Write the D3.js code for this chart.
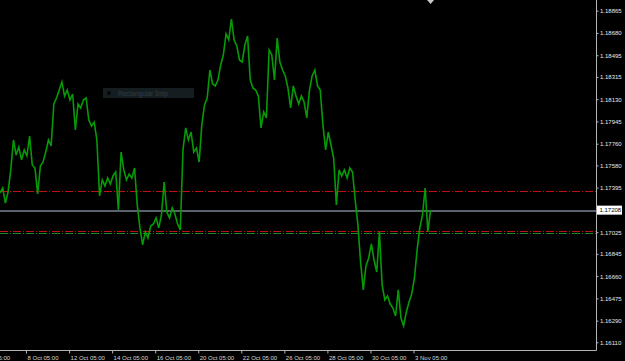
<!DOCTYPE html>
<html>
<head>
<meta charset="utf-8">
<script src="https://cdn.jsdelivr.net/npm/d3@7"></script>
<style>
  html, body { margin: 0; padding: 0; background: #000; }
  svg { display: block; }
</style>
</head>
<body>
<div id="chart"></div>
<script>
// EURUSD closes, one value every 3 hourly bars
const closes = [
  1.17351, 1.17392, 1.17267, 1.17359, 1.17542, 1.17791, 1.17666, 1.17733, 1.17625, 1.17708,
  1.17658, 1.17824, 1.17583, 1.17558, 1.17342, 1.17575, 1.17608, 1.17691, 1.17791, 1.17741,
  1.18090, 1.18140, 1.18206, 1.18273, 1.18156, 1.18206, 1.18123, 1.18173, 1.17874, 1.18090,
  1.18057, 1.18123, 1.18140, 1.17957, 1.17907, 1.17940, 1.17791, 1.17326, 1.17459, 1.17409,
  1.17475, 1.17425, 1.17492, 1.17525, 1.17209, 1.17691, 1.17542, 1.17459, 1.17508, 1.17475,
  1.17558, 1.17251, 1.17060, 1.16919, 1.17027, 1.16977, 1.17076, 1.17093, 1.17143, 1.17060,
  1.17168, 1.17442, 1.17193, 1.17143, 1.17226, 1.17176, 1.17093, 1.17043, 1.17708, 1.17891,
  1.17791, 1.17857, 1.17691, 1.17724, 1.17608, 1.17916, 1.18082, 1.18140, 1.18372, 1.18256,
  1.18240, 1.18289, 1.18414, 1.18497, 1.18672, 1.18622, 1.18796, 1.18622, 1.18572, 1.18456,
  1.18439, 1.18580, 1.18655, 1.18289, 1.18223, 1.18206, 1.18156, 1.17891, 1.18024, 1.17974,
  1.18539, 1.18497, 1.18289, 1.18638, 1.18439, 1.18372, 1.18323, 1.18223, 1.18057, 1.18240,
  1.18156, 1.18090, 1.18156, 1.18107, 1.17974, 1.18206, 1.18323, 1.18372, 1.18240, 1.18206,
  1.17916, 1.17708, 1.17857, 1.17749, 1.17641, 1.17251, 1.17542, 1.17492, 1.17542, 1.17475,
  1.17558, 1.17525, 1.17292, 1.17085, 1.16777, 1.16545, 1.16744, 1.16811, 1.16927, 1.16794,
  1.16694, 1.17027, 1.16586, 1.16462, 1.16495, 1.16428, 1.16395, 1.16329, 1.16545, 1.16312,
  1.16246, 1.16362, 1.16445, 1.16511, 1.16644, 1.16877, 1.17060, 1.17168, 1.17392, 1.17027,
  1.17209
];
const barStep = 3;

const priceTicks = [1.18865, 1.18680, 1.18495, 1.18315, 1.18130, 1.17945, 1.17760, 1.17580,
  1.17395, 1.17025, 1.16845, 1.16660, 1.16475, 1.16290, 1.16110];

const timeTickBars = [-25, 29, 77, 125, 173, 221, 269, 317, 365, 413, 461];
const timeTickLabels = ["6 Oct 05:00", "8 Oct 05:00", "12 Oct 05:00", "14 Oct 05:00",
  "16 Oct 05:00", "20 Oct 05:00", "22 Oct 05:00", "26 Oct 05:00", "28 Oct 05:00",
  "30 Oct 05:00", "3 Nov 05:00"];

const bidPrice = 1.17208;
const redLevels = [1.17364, 1.17032];
const greenLevels = [1.17015];

const width = 625, height = 361;
const plotRight = 596.5, plotBottom = 350.5;

const svg = d3.select("#chart").append("svg")
  .attr("width", width)
  .attr("height", height)
  .style("background", "#000")
  .style("font-family", "'Liberation Sans', Arial, sans-serif");

// bars -> pixels, prices -> pixels
const x = d3.scaleLinear().domain([0, 665]).range([0, plotRight]);
const y = d3.scaleLinear().domain([1.16110, 1.18865]).range([342.3, 10.7]);

// level lines
function levelLine(price, color, dash, w) {
  const py = Math.round(y(price)) + 0.5;
  svg.append("line")
    .attr("x1", 0).attr("x2", plotRight)
    .attr("y1", py).attr("y2", py)
    .attr("stroke", color)
    .attr("stroke-width", w)
    .attr("shape-rendering", "crispEdges")
    .attr("stroke-dasharray", dash);
}
levelLine(bidPrice, "#5a626c", null, 2);
redLevels.forEach(p => levelLine(p, "#c01010", "8,2,1,2", 1));
greenLevels.forEach(p => levelLine(p, "#1a8a26", "8,2,1,2", 1));

// "Rectangular Snip" leftover
const snip = svg.append("g").attr("transform", "translate(103,88)");
snip.append("rect").attr("width", 91).attr("height", 10).attr("fill", "#151d21");
snip.append("circle").attr("cx", 6).attr("cy", 5).attr("r", 2).attr("fill", "#050709");
snip.append("text").attr("x", 15).attr("y", 7.5)
  .attr("font-size", "6.5px").attr("fill", "#2f3d46").text("Rectangular Snip");

// price line
const line = d3.line()
  .x((d, i) => x(i * barStep))
  .y(d => y(d));

svg.append("path")
  .datum(closes)
  .attr("fill", "none")
  .attr("stroke", "#079a07")
  .attr("stroke-width", 1.6)
  .attr("stroke-linejoin", "miter")
  .attr("d", line);

// frame
svg.append("line")
  .attr("x1", plotRight).attr("x2", plotRight)
  .attr("y1", 0).attr("y2", plotBottom)
  .attr("stroke", "#b4b4b4");
svg.append("line")
  .attr("x1", 0).attr("x2", plotRight)
  .attr("y1", plotBottom).attr("y2", plotBottom)
  .attr("stroke", "#b4b4b4");

// price axis
const yAxis = svg.append("g")
  .attr("transform", "translate(" + plotRight + ",0)")
  .call(d3.axisRight(y)
    .tickValues(priceTicks)
    .tickSize(2)
    .tickPadding(1.5)
    .tickFormat(d3.format(".5f")));
yAxis.select(".domain").remove();
yAxis.selectAll("line").attr("stroke", "#b4b4b4");
yAxis.selectAll("text")
  .attr("fill", "#e8e8e8")
  .attr("font-size", "6px")
  .attr("font-family", "'Liberation Sans', Arial, sans-serif");

// bid label
svg.append("rect")
  .attr("x", plotRight + 0.5).attr("y", y(bidPrice) - 4.5)
  .attr("width", 25).attr("height", 9)
  .attr("fill", "#fff");
svg.append("text")
  .attr("x", plotRight + 3).attr("y", y(bidPrice) + 2.2)
  .attr("font-size", "6px")
  .attr("fill", "#000")
  .text(d3.format(".5f")(bidPrice));

// time axis
const xAxis = svg.append("g")
  .attr("transform", "translate(0," + plotBottom + ")")
  .call(d3.axisBottom(x)
    .tickValues(timeTickBars)
    .tickSize(3)
    .tickPadding(2)
    .tickFormat((d, i) => timeTickLabels[i]));
xAxis.select(".domain").remove();
xAxis.selectAll("line").attr("stroke", "#b4b4b4");
xAxis.selectAll("text")
  .attr("text-anchor", "start")
  .attr("x", 1)
  .attr("fill", "#d8d8d8")
  .attr("font-size", "6px")
  .attr("font-family", "'Liberation Sans', Arial, sans-serif");

// chart shift marker
const shiftX = x(480);
svg.append("path")
  .attr("d", "M" + (shiftX - 3.5) + ",0L" + (shiftX + 3.5) + ",0L" + shiftX + ",4Z")
  .attr("fill", "#c8c8c8");
</script>
</body>
</html>
